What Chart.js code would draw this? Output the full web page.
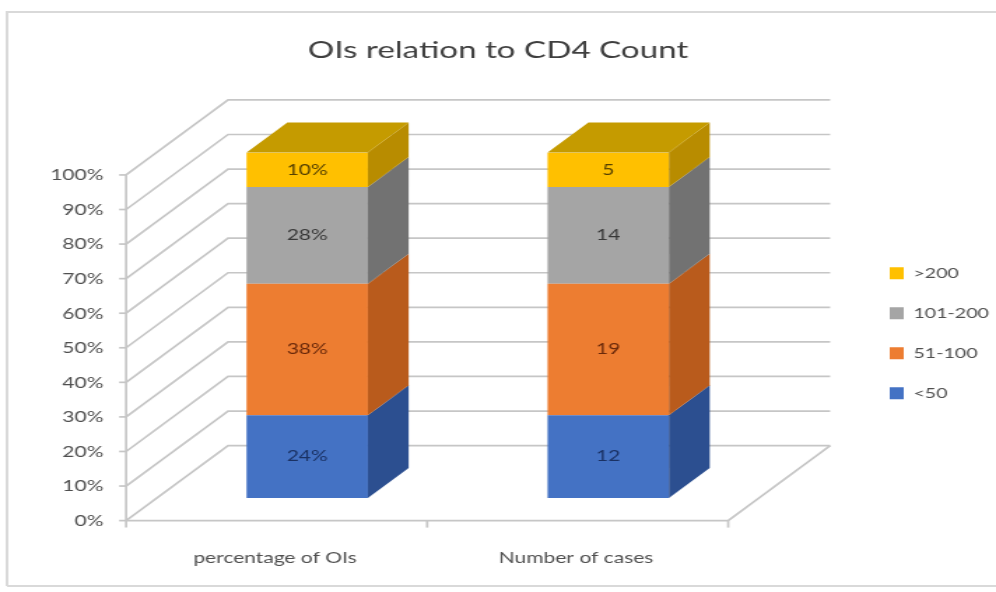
<!DOCTYPE html>
<html>
<head>
<meta charset="utf-8">
<title>OIs relation to CD4 Count</title>
<script src="https://cdn.jsdelivr.net/npm/chart.js@4.4.1/dist/chart.umd.min.js"></script>
<style>
  html, body { margin: 0; padding: 0; background: #fff; overflow: hidden; }
  /* chart is laid out narrow and widened here, which gives the broad lettering */
  #wrap { width: 712px; height: 592px; transform: scaleX(1.3989); transform-origin: 0 0; }
</style>
</head>
<body>
<div id="wrap"><canvas id="cd4Chart"></canvas></div>
<script>
const categories = ['percentage of OIs', 'Number of cases'];
const groups = ['<50', '51-100', '101-200', '>200'];
const pctOfOIs = [24, 38, 28, 10];
const numCases = [12, 19, 14, 5];
const yTicks = [0, 10, 20, 30, 40, 50, 60, 70, 80, 90, 100];

const frontColors = ['#4472C4', '#ED7D31', '#A5A5A5', '#FFC000'];
const sideColors = ['#2C4F90', '#B95B1C', '#727272', '#B88C00'];
const topColor = '#C59B00';
const labelColors = ['#1a3163', '#6a290a', '#383838', '#564100'];
const gridColor = '#c6c6c6';
const textColor = '#4f4f4f';

Chart.defaults.font.family = 'Lato';

const totalCases = numCases.reduce((a, b) => a + b, 0);

//both columns are shown as 100% stacks
const datasets = groups.map(function (g, i) {
  return {
    label: g,
    data: [pctOfOIs[i], numCases[i] / totalCases * 100],
    backgroundColor: frontColors[i],
    borderWidth: 0,
    barPercentage: 0.403,
    categoryPercentage: 1
  };
});

//text printed on each block
const blockLabels = groups.map(function (g, i) {
  return [pctOfOIs[i] + '%', String(numCases[i])];
});

//depth of the floor, and where the columns sit inside it
const depth = { x: 72.9, y: -75 };
const colFront = 0.3, colBack = 0.7;

function at(x, y, t) {
  return [x + t * depth.x, y + t * depth.y];
}

function line(ctx, pts) {
  ctx.beginPath();
  ctx.moveTo(pts[0][0], pts[0][1]);
  for (let i = 1; i < pts.length; i++) ctx.lineTo(pts[i][0], pts[i][1]);
  ctx.stroke();
}

function poly(ctx, pts, color) {
  ctx.beginPath();
  ctx.moveTo(pts[0][0], pts[0][1]);
  for (let i = 1; i < pts.length; i++) ctx.lineTo(pts[i][0], pts[i][1]);
  ctx.closePath();
  ctx.fillStyle = color;
  ctx.fill();
}

const box3d = {
  id: 'box3d',
  beforeDraw(chart) {
    const ctx = chart.ctx;
    ctx.save();
    ctx.strokeStyle = '#d9d9d9';
    ctx.lineWidth = 2;
    line(ctx, [[5, 586], [5, 12], [chart.width + 5, 12]]);
    line(ctx, [[5, 586], [chart.width + 5, 586]]);
    ctx.restore();
  },
  beforeDatasetsDraw(chart) {
    const ctx = chart.ctx, ys = chart.scales.y, area = chart.chartArea;
    ctx.save();
    ctx.strokeStyle = gridColor;
    ctx.lineWidth = 1.7;
    //side wall and back wall lines
    yTicks.forEach(function (v) {
      const y = ys.getPixelForValue(v);
      line(ctx, [at(area.left, y, -colFront), at(area.left, y, 1 - colFront), at(area.right, y, 1 - colFront)]);
    });
    //floor edges
    const y0 = ys.getPixelForValue(0);
    line(ctx, [at(area.left, y0, -colFront), at(area.right, y0, -colFront), at(area.right, y0, 1 - colFront)]);
    //value axis
    line(ctx, [at(area.left, y0, -colFront), at(area.left, ys.getPixelForValue(100), -colFront)]);
    yTicks.forEach(function (v) {
      const p = at(area.left, ys.getPixelForValue(v), -colFront);
      line(ctx, [[p[0] - 5, p[1]], p]);
    });
    //category tick marks
    [area.left, (area.left + area.right) / 2, area.right].forEach(function (x) {
      const p = at(x, y0, -colFront);
      line(ctx, [p, [p[0], p[1] + 7]]);
    });
    ctx.restore();
  },
  afterDatasetsDraw(chart) {
    const ctx = chart.ctx;
    const d = [depth.x * (colBack - colFront), depth.y * (colBack - colFront)];
    const last = chart.data.datasets.length - 1;
    ctx.save();
    chart.data.datasets.forEach(function (ds, i) {
      chart.getDatasetMeta(i).data.forEach(function (bar, j) {
        const p = bar.getProps(['x', 'y', 'base', 'width'], true);
        const l = p.x - p.width / 2, r = p.x + p.width / 2;
        poly(ctx, [[r, p.y], [r + d[0], p.y + d[1]], [r + d[0], p.base + d[1]], [r, p.base]], sideColors[i]);
        if (i === last) {
          poly(ctx, [[l, p.y], [l + d[0], p.y + d[1]], [r + d[0], p.y + d[1]], [r, p.y]], topColor);
        }
        ctx.fillStyle = labelColors[i];
        ctx.font = '15px Lato';
        ctx.textAlign = 'center';
        ctx.textBaseline = 'middle';
        ctx.fillText(blockLabels[i][j], p.x, (p.y + p.base) / 2);
      });
    });
    ctx.restore();
  }
};

new Chart(document.getElementById('cd4Chart'), {
  type: 'bar',
  data: { labels: categories, datasets: datasets },
  plugins: [box3d],
  options: {
    responsive: true,
    maintainAspectRatio: false,
    animation: false,
    plugins: {
      title: {
        display: true,
        text: 'OIs relation to CD4 Count',
        color: '#3f3f3f',
        font: { size: 23.7, weight: 'normal' },
        padding: { top: 36, bottom: 88 }
      },
      legend: {
        position: 'right',
        reverse: true,
        fullSize: false,
        maxWidth: 102,
        labels: { boxWidth: 10, boxHeight: 12, padding: 26, color: textColor, font: { size: 14 } }
      },
      tooltip: { enabled: false }
    },
    scales: {
      x: {
        stacked: true,
        grid: { display: false },
        border: { display: false },
        afterFit: function (s) { s.height = 78; },
        ticks: { padding: 27, labelOffset: -23, maxRotation: 0, color: textColor, font: { size: 15 } }
      },
      y: {
        stacked: true,
        min: -4.6,
        max: 100,
        grid: { display: false },
        border: { display: false },
        afterBuildTicks: function (s) { s.ticks = yTicks.map(v => ({ value: v })); },
        afterFit: function (s) { s.width = 112; },
        ticks: { padding: 30, labelOffset: 23, color: textColor, font: { size: 15 }, callback: v => v + '%' }
      },
      gap: {
        type: 'linear',
        position: 'right',
        grid: { display: false },
        border: { display: false },
        ticks: { display: false },
        afterFit: function (s) { s.width = 67.6; }
      }
    }
  }
});
</script>
</body>
</html>
